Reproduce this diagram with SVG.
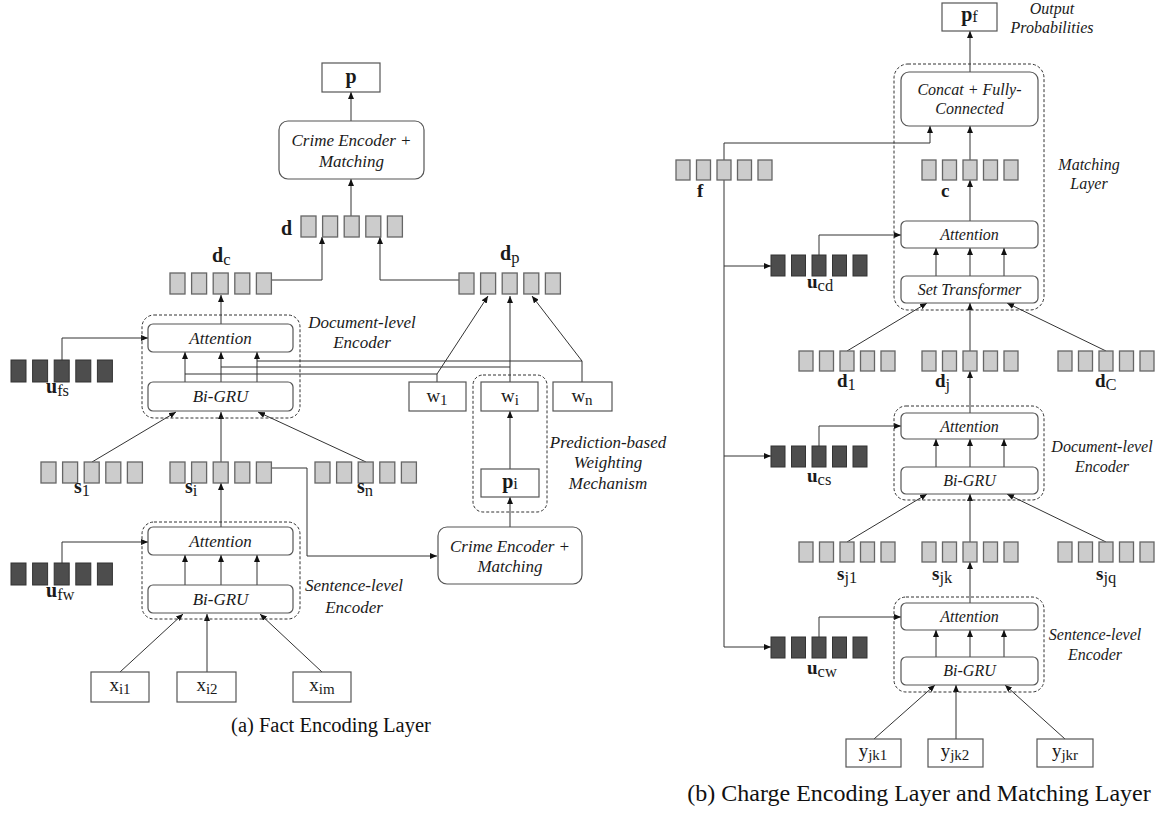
<svg xmlns="http://www.w3.org/2000/svg" xmlns:xlink="http://www.w3.org/1999/xlink" width="1165" height="814" viewBox="0 0 1165 814">
<style>
.box{fill:#fff;stroke:#555;stroke-width:1.2}
.cont{fill:none;stroke:#333;stroke-width:1;stroke-dasharray:3 2}
.lc{fill:#cccccc;stroke:#666;stroke-width:1.3}
.dk{fill:#4d4d4d;stroke:#333;stroke-width:1}
.ln{fill:none;stroke:#333;stroke-width:1}
.a{marker-end:url(#ah)}
.it{font-family:"Liberation Serif",serif;font-style:italic;font-size:17px;text-anchor:middle;fill:#1a1a1a}
.itr{font-family:"Liberation Serif",serif;font-style:italic;font-size:16px;text-anchor:middle;fill:#1a1a1a}
.lbl{font-family:"Liberation Serif",serif;font-weight:bold;font-size:20px;fill:#1a1a1a}
.lr{font-size:19px}
.sub{font-weight:normal;font-size:16.5px}
.rm{font-family:"Liberation Serif",serif;font-size:19px;text-anchor:middle;fill:#1a1a1a}
.rs{font-size:15px}
.cap{font-family:"Liberation Serif",serif;font-size:20.5px;fill:#111;text-anchor:middle}
.capb{font-size:24px}
</style>
<defs>
<marker id="ah" markerUnits="userSpaceOnUse" markerWidth="7" markerHeight="6" refX="7" refY="3" orient="auto"><path d="M0,0 L7,3 L0,6 z" fill="#111"/></marker>
<g id="vL"><rect class="lc" x="0" y="0" width="15" height="21"/><rect class="lc" x="21.6" y="0" width="15" height="21"/><rect class="lc" x="43.2" y="0" width="15" height="21"/><rect class="lc" x="64.8" y="0" width="15" height="21"/><rect class="lc" x="86.4" y="0" width="15" height="21"/></g>
<g id="vD"><rect class="dk" x="0" y="0" width="15" height="22"/><rect class="dk" x="21.6" y="0" width="15" height="22"/><rect class="dk" x="43.2" y="0" width="15" height="22"/><rect class="dk" x="64.8" y="0" width="15" height="22"/><rect class="dk" x="86.4" y="0" width="15" height="22"/></g>
<g id="vRL"><rect class="lc" x="0" y="0" width="14" height="20"/><rect class="lc" x="20.5" y="0" width="14" height="20"/><rect class="lc" x="41" y="0" width="14" height="20"/><rect class="lc" x="61.5" y="0" width="14" height="20"/><rect class="lc" x="82" y="0" width="14" height="20"/></g>
<g id="vRD"><rect class="dk" x="0" y="0" width="14" height="21"/><rect class="dk" x="20.5" y="0" width="14" height="21"/><rect class="dk" x="41" y="0" width="14" height="21"/><rect class="dk" x="61.5" y="0" width="14" height="21"/><rect class="dk" x="82" y="0" width="14" height="21"/></g>
</defs>
<rect width="1165" height="814" fill="#fff"/>

<g id="connectors">
<!-- left -->
<path class="ln a" d="M351,121 V92"/>
<path class="ln a" d="M351,216 V179"/>
<path class="ln a" d="M272,280 H322 V237"/>
<path class="ln a" d="M459,280 H380 V237"/>
<path class="ln a" d="M221,324 V295"/>
<path class="ln a" d="M185,382 V352"/>
<path class="ln a" d="M221,382 V352"/>
<path class="ln a" d="M257,382 V352"/>
<path class="ln" d="M257,361 H582 V382"/>
<path class="ln a" d="M582,361 L532,296"/>
<path class="ln" d="M221,367 H510"/>
<path class="ln a" d="M510,382 V296"/>
<path class="ln" d="M185,374 H437 V382"/>
<path class="ln a" d="M437,374 L488,296"/>
<path class="ln a" d="M62,360 V338 H148"/>
<path class="ln a" d="M92,462 L176,412"/>
<path class="ln a" d="M221,462 V412"/>
<path class="ln a" d="M366,462 L258,412"/>
<path class="ln a" d="M221,527 V483"/>
<path class="ln a" d="M185,585 V555"/>
<path class="ln a" d="M221,585 V555"/>
<path class="ln a" d="M257,585 V555"/>
<path class="ln a" d="M62,563 V542 H148"/>
<path class="ln a" d="M272,468 H307 V556 H437"/>
<path class="ln a" d="M510,527 V497"/>
<path class="ln a" d="M510,469 V411"/>
<path class="ln a" d="M120,672 L183,614"/>
<path class="ln a" d="M207,672 V614"/>
<path class="ln a" d="M322,672 L260,614"/>
<!-- right -->
<path class="ln a" d="M970,72 V31"/>
<path class="ln a" d="M970,160 V126"/>
<path class="ln a" d="M724,160 V143 H930 V126"/>
<path class="ln a" d="M970,221 V180"/>
<path class="ln a" d="M936,276 V248"/>
<path class="ln a" d="M970,276 V248"/>
<path class="ln a" d="M1004,276 V248"/>
<path class="ln a" d="M724,180 V647 H771"/>
<path class="ln a" d="M724,266 H771"/>
<path class="ln a" d="M724,456 H771"/>
<path class="ln a" d="M819,255 V235 H901"/>
<path class="ln a" d="M819,446 V426 H901"/>
<path class="ln a" d="M819,637 V617 H901"/>
<path class="ln a" d="M847,351 L927,303"/>
<path class="ln a" d="M970,351 V303"/>
<path class="ln a" d="M1106,351 L1007,303"/>
<path class="ln a" d="M970,413 V371"/>
<path class="ln a" d="M936,467 V439"/>
<path class="ln a" d="M970,467 V439"/>
<path class="ln a" d="M1004,467 V439"/>
<path class="ln a" d="M847,542 L927,494"/>
<path class="ln a" d="M970,542 V494"/>
<path class="ln a" d="M1106,542 L1007,494"/>
<path class="ln a" d="M970,603 V562"/>
<path class="ln a" d="M936,657 V630"/>
<path class="ln a" d="M970,657 V630"/>
<path class="ln a" d="M1004,657 V630"/>
<path class="ln a" d="M874,739 L935,685"/>
<path class="ln a" d="M956,739 V685"/>
<path class="ln a" d="M1065,739 L1005,685"/>
</g>

<!-- LEFT: Fact Encoding Layer -->
<g id="p-out"><rect class="box" x="322" y="63" width="58" height="29"/><text class="lbl" x="351" y="83" text-anchor="middle">p</text></g>
<g id="crime-encoder-top"><rect class="box" x="279" y="121" width="145" height="58" rx="9"/><text class="it" x="351.5" y="146">Crime Encoder +</text><text class="it" x="351.5" y="167">Matching</text></g>
<g id="vec-d"><use xlink:href="#vL" x="301" y="216"/><text class="lbl" x="281" y="235">d</text></g>
<g id="vec-dc"><use xlink:href="#vL" x="170" y="273"/><text class="lbl" x="212" y="262">d<tspan class="sub" dy="3">c</tspan></text></g>
<g id="vec-dp"><use xlink:href="#vL" x="459" y="273"/><text class="lbl" x="500" y="260">d<tspan class="sub" dy="3">p</tspan></text></g>
<g id="doc-encoder-left">
<rect class="cont" x="142" y="315" width="158" height="103" rx="12"/>
<rect class="box" x="148" y="324" width="145" height="28" rx="5"/><text class="it" x="220.5" y="344">Attention</text>
<rect class="box" x="148" y="382" width="145" height="29" rx="5"/><text class="it" x="220.5" y="402">Bi-GRU</text>
<text class="it" x="362" y="328">Document-level</text><text class="it" x="362" y="348">Encoder</text>
</g>
<g id="vec-ufs"><use xlink:href="#vD" x="11" y="360"/><text class="lbl" x="46" y="393">u<tspan class="sub" dy="3">fs</tspan></text></g>
<g id="w1"><rect class="box" x="409" y="382" width="57" height="29"/><text class="rm" x="437" y="402">w<tspan class="rs" dy="3">1</tspan></text></g>
<g id="pred-weighting">
<rect class="cont" x="473" y="375" width="74" height="137" rx="10"/>
<rect class="box" x="481" y="382" width="57" height="29"/><text class="rm" x="510" y="402">w<tspan class="rs" dy="3">i</tspan></text>
<rect class="box" x="481" y="469" width="58" height="28"/><text class="lbl" x="510" y="488" text-anchor="middle">p<tspan class="sub" dy="1">i</tspan></text>
<text class="it" x="608" y="448">Prediction-based</text><text class="it" x="608" y="468">Weighting</text><text class="it" x="608" y="489">Mechanism</text>
</g>
<g id="wn"><rect class="box" x="553" y="382" width="59" height="29"/><text class="rm" x="582" y="402">w<tspan class="rs" dy="3">n</tspan></text></g>
<g id="vec-s1"><use xlink:href="#vL" x="41" y="462"/><text class="lbl" x="74" y="493">s<tspan class="sub" dy="3">1</tspan></text></g>
<g id="vec-si"><use xlink:href="#vL" x="170" y="462"/><text class="lbl" x="185" y="493">s<tspan class="sub" dy="3">i</tspan></text></g>
<g id="vec-sn"><use xlink:href="#vL" x="315" y="462"/><text class="lbl" x="357" y="493">s<tspan class="sub" dy="3">n</tspan></text></g>
<g id="sent-encoder-left">
<rect class="cont" x="142" y="522" width="158" height="97" rx="12"/>
<rect class="box" x="148" y="527" width="145" height="28" rx="5"/><text class="it" x="220.5" y="547">Attention</text>
<rect class="box" x="148" y="585" width="145" height="28" rx="5"/><text class="it" x="220.5" y="605">Bi-GRU</text>
<text class="it" x="354" y="591">Sentence-level</text><text class="it" x="354" y="613">Encoder</text>
</g>
<g id="vec-ufw"><use xlink:href="#vD" x="11" y="563"/><text class="lbl" x="46" y="597">u<tspan class="sub" dy="3">fw</tspan></text></g>
<g id="crime-encoder-mid"><rect class="box" x="438" y="527" width="144" height="57" rx="9"/><text class="it" x="510" y="552">Crime Encoder +</text><text class="it" x="510" y="572">Matching</text></g>
<g id="xi1"><rect class="box" x="91" y="672" width="58" height="30"/><text class="rm" x="120" y="691">x<tspan class="rs" dy="3">i1</tspan></text></g>
<g id="xi2"><rect class="box" x="177" y="672" width="59" height="30"/><text class="rm" x="207" y="691">x<tspan class="rs" dy="3">i2</tspan></text></g>
<g id="xim"><rect class="box" x="293" y="672" width="58" height="30"/><text class="rm" x="322" y="691">x<tspan class="rs" dy="3">im</tspan></text></g>
<text class="cap" x="331" y="732">(a) Fact Encoding Layer</text>

<!-- RIGHT: Charge Encoding Layer and Matching Layer -->
<g id="pf-out"><rect class="box" x="942" y="3" width="55" height="28"/><text class="lbl" x="969.5" y="21" text-anchor="middle">p<tspan class="sub" dy="1">f</tspan></text>
<text class="itr" x="1052" y="14">Output</text><text class="itr" x="1052" y="33">Probabilities</text></g>
<g id="matching-layer">
<rect class="cont" x="894" y="64" width="150" height="246" rx="14"/>
<rect class="box" x="901" y="72" width="137" height="54" rx="8"/><text class="itr" x="969.5" y="95">Concat + Fully-</text><text class="itr" x="969.5" y="114">Connected</text>
<rect class="box" x="901" y="221" width="137" height="27" rx="5"/><text class="itr" x="969.5" y="240">Attention</text>
<rect class="box" x="901" y="276" width="137" height="27" rx="5"/><text class="itr" x="969.5" y="295">Set Transformer</text>
<text class="itr" x="1089" y="170">Matching</text><text class="itr" x="1089" y="189">Layer</text>
</g>
<g id="vec-f"><use xlink:href="#vRL" x="676" y="160"/><text class="lbl lr" x="697" y="197">f</text></g>
<g id="vec-c"><use xlink:href="#vRL" x="922" y="160"/><text class="lbl lr" x="941" y="197">c</text></g>
<g id="vec-ucd"><use xlink:href="#vRD" x="771" y="255"/><text class="lbl lr" x="807" y="288">u<tspan class="sub" dy="3">cd</tspan></text></g>
<g id="vec-d1"><use xlink:href="#vRL" x="799" y="351"/><text class="lbl lr" x="837" y="387">d<tspan class="sub" dy="3">1</tspan></text></g>
<g id="vec-dj"><use xlink:href="#vRL" x="922" y="351"/><text class="lbl lr" x="935" y="387">d<tspan class="sub" dy="3">j</tspan></text></g>
<g id="vec-dC"><use xlink:href="#vRL" x="1058" y="351"/><text class="lbl lr" x="1095" y="387">d<tspan class="sub" dy="3">C</tspan></text></g>
<g id="doc-encoder-right">
<rect class="cont" x="894" y="406" width="150" height="94" rx="12"/>
<rect class="box" x="901" y="413" width="137" height="26" rx="5"/><text class="itr" x="969.5" y="432">Attention</text>
<rect class="box" x="901" y="467" width="137" height="27" rx="5"/><text class="itr" x="969.5" y="486">Bi-GRU</text>
<text class="itr" x="1102" y="452">Document-level</text><text class="itr" x="1102" y="472">Encoder</text>
</g>
<g id="vec-ucs"><use xlink:href="#vRD" x="771" y="446"/><text class="lbl lr" x="807" y="482">u<tspan class="sub" dy="3">cs</tspan></text></g>
<g id="vec-sj1"><use xlink:href="#vRL" x="799" y="542"/><text class="lbl lr" x="837" y="580">s<tspan class="sub" dy="3">j1</tspan></text></g>
<g id="vec-sjk"><use xlink:href="#vRL" x="922" y="542"/><text class="lbl lr" x="932" y="580">s<tspan class="sub" dy="3">jk</tspan></text></g>
<g id="vec-sjq"><use xlink:href="#vRL" x="1058" y="542"/><text class="lbl lr" x="1096" y="580">s<tspan class="sub" dy="3">jq</tspan></text></g>
<g id="sent-encoder-right">
<rect class="cont" x="894" y="597" width="150" height="95" rx="12"/>
<rect class="box" x="901" y="603" width="137" height="27" rx="5"/><text class="itr" x="969.5" y="622">Attention</text>
<rect class="box" x="901" y="657" width="137" height="28" rx="5"/><text class="itr" x="969.5" y="676">Bi-GRU</text>
<text class="itr" x="1095" y="640">Sentence-level</text><text class="itr" x="1095" y="660">Encoder</text>
</g>
<g id="vec-ucw"><use xlink:href="#vRD" x="771" y="637"/><text class="lbl lr" x="807" y="674">u<tspan class="sub" dy="3">cw</tspan></text></g>
<g id="yjk1"><rect class="box" x="846" y="739" width="55" height="28"/><text class="rm" x="873" y="757">y<tspan class="rs" dy="3">jk1</tspan></text></g>
<g id="yjk2"><rect class="box" x="928" y="739" width="55" height="28"/><text class="rm" x="955" y="757">y<tspan class="rs" dy="3">jk2</tspan></text></g>
<g id="yjkr"><rect class="box" x="1037" y="739" width="56" height="28"/><text class="rm" x="1065" y="757">y<tspan class="rs" dy="3">jkr</tspan></text></g>
<text class="cap capb" x="919" y="801">(b) Charge Encoding Layer and Matching Layer</text>
</svg>
